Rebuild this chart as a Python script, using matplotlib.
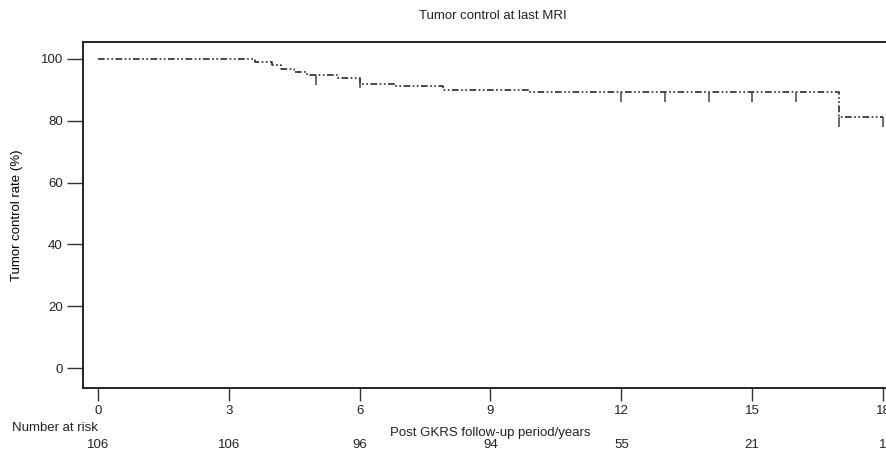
import numpy as np
import matplotlib
matplotlib.use('Agg')
import matplotlib.pyplot as plt
import matplotlib.markers as mmarkers

plt.rcParams['font.family'] = ['Liberation Sans', 'DejaVu Sans']
plt.rcParams['text.color'] = '#222222'
plt.rcParams['xtick.labelcolor'] = '#222222'
plt.rcParams['ytick.labelcolor'] = '#222222'

# --- dados ---
step_times = [0, 3.6, 4.0, 4.2, 4.5, 4.8, 5.5, 6.0, 6.8, 7.9, 9.9, 17.0, 18.0]
step_surv = [100, 98.9, 97.9, 96.8, 95.8, 94.9, 93.9, 92.0, 91.1, 90.1, 89.4, 81.2, 81.2]

censor_times = [5.0, 6.0, 12.0, 13.0, 14.0, 15.0, 16.0, 17.0, 18.0]
censor_surv = [94.9, 93.9, 89.4, 89.4, 89.4, 89.4, 89.4, 81.2, 81.2]

risk_times = [0, 3, 6, 9, 12, 15, 18]
risk_counts = [106, 106, 96, 94, 55, 21, 1]

W, H = 886, 455
fig = plt.figure(figsize=(W / 100, H / 100), dpi=100)
ax = fig.add_axes([83 / W, (H - 388) / H, (900 - 83) / W, (388 - 42) / H])

ls = (0, (4, 1.5, 1, 1.5, 1, 1.5))
ax.step(step_times, step_surv, where='post', color='#2a2a2a', lw=1.2, linestyle=ls)
ax.plot(censor_times, censor_surv, linestyle='none', marker=mmarkers.TICKDOWN,
        markersize=7, markeredgewidth=1.1, color='#444444')

ax.set_xlim(-0.344, 18.39)
ax.set_ylim(-6.47, 105.5)
ax.set_xticks(risk_times)
ax.set_yticks([0, 20, 40, 60, 80, 100])

for s in ['top', 'bottom', 'left']:
    ax.spines[s].set_linewidth(1.4)
    ax.spines[s].set_color('#222222')
ax.spines['right'].set_visible(False)

ax.tick_params(axis='y', direction='out', length=11.5, width=1.0, pad=3, labelsize=9.5, color='#333333')
ax.tick_params(axis='x', direction='out', length=9.5, width=1.0, pad=3, labelsize=9.5, color='#333333')

ax.set_ylabel('Tumor control rate (%)', fontsize=9.5, labelpad=13)

fig.text(493 / W, 1 - 16 / H, 'Tumor control at last MRI', ha='center', va='center', fontsize=9.5)

# número em risco
fig.text(12 / W, 1 - 428 / H, 'Number at risk', ha='left', va='center', fontsize=9.5)
trans = matplotlib.transforms.blended_transform_factory(ax.transData, fig.transFigure)
for t, n in zip(risk_times, risk_counts):
    ax.text(t, 1 - 445 / H, str(n), transform=trans, ha='center', va='center', fontsize=9.5)
ax.text(9, 1 - 433 / H, 'Post GKRS follow-up period/years', transform=trans,
        ha='center', va='center', fontsize=9.5)

fig.savefig('out.png', dpi=100)
